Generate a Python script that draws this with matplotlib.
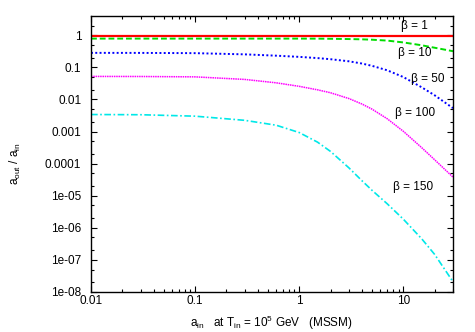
import numpy as np
import matplotlib
matplotlib.use("Agg")
import matplotlib.pyplot as plt
from matplotlib.ticker import LogLocator, NullFormatter, FixedLocator, FixedFormatter

plt.rcParams['font.family'] = ['Liberation Sans', 'DejaVu Sans']
plt.rcParams['mathtext.fontset'] = 'custom'
plt.rcParams['mathtext.rm'] = 'Liberation Sans'
plt.rcParams['mathtext.it'] = 'Liberation Sans:italic'

# values (log-log)
a_in = [0.01, 0.03, 0.1, 0.3, 0.6, 1, 1.5, 2, 3, 4, 5, 7, 10, 15, 20, 30]
beta_1 = [0.97, 0.97, 0.97, 0.97, 0.97, 0.97, 0.97, 0.97, 0.97, 0.97, 0.97, 0.97, 0.97, 0.97, 0.97, 0.97]
beta_10 = [0.79, 0.79, 0.79, 0.79, 0.79, 0.79, 0.787, 0.78, 0.765, 0.75, 0.73, 0.685, 0.60, 0.49, 0.41, 0.32]
beta_50 = [0.284, 0.283, 0.278, 0.255, 0.232, 0.213, 0.195, 0.180, 0.155, 0.132, 0.112, 0.0813, 0.0501,
           0.024, 0.0135, 0.00537]
beta_100 = [0.0524, 0.0521, 0.0507, 0.0422, 0.0331, 0.0257, 0.020, 0.0162, 0.0107, 0.00724, 0.00501,
            0.00251, 0.00102, 3.16e-4, 1.32e-4, 3.8e-5]
beta_150 = [3.40e-3, 3.35e-3, 3.02e-3, 2.24e-3, 1.58e-3, 9.33e-4, 4.68e-4, 2.40e-4, 7.41e-5, 2.95e-5,
            1.48e-5, 5.62e-6, 1.86e-6, 4.57e-7, 1.48e-7, 2.09e-8]

series = [beta_1, beta_10, beta_50, beta_100, beta_150]
labels = ['\u03b2 = 1', '\u03b2 = 10', '\u03b2 = 50', '\u03b2 = 100', '\u03b2 = 150']
label_pos = [(12.8, 1.9), (12.8, 0.29), (17, 0.045), (13.1, 0.0039), (12.5, 1.9e-5)]
colors = ['#ff0000', '#00dd00', '#0000ff', '#ff00ff', '#00e8e8']
styles = ['-', (0, (3, 1.5)), (0, (1, 1.2)), (0, (1, 0.5)), (0, (4, 1.5, 1, 1.5))]
widths = [1.6, 1.4, 1.4, 1.1, 1.2]

yticks = [1e-8, 1e-7, 1e-6, 1e-5, 1e-4, 1e-3, 1e-2, 0.1, 1]
ytick_labels = ['1e-08', '1e-07', '1e-06', '1e-05', '0.0001', '0.001', '0.01', '0.1', '1']
xticks = [0.01, 0.1, 1, 10]
xtick_labels = ['0.01', '0.1', '1', '10']

fig = plt.figure(figsize=(4.75, 3.32), dpi=100)
ax = fig.add_axes([91 / 475, 1 - 292 / 332, 362 / 475, 276 / 332])

for y, c, ls, lw in zip(series, colors, styles, widths):
    ax.plot(a_in, y, color=c, linestyle=ls, linewidth=lw)

for (tx, ty), t in zip(label_pos, labels):
    ax.text(tx, ty, t, ha='center', va='center', fontsize=8.5)

ax.set_xscale('log')
ax.set_yscale('log')
ax.set_xlim(0.01, 30)
ax.set_ylim(1e-8, 4)

ax.yaxis.set_major_locator(FixedLocator(yticks))
ax.yaxis.set_major_formatter(FixedFormatter(ytick_labels))
ax.yaxis.set_minor_locator(LogLocator(base=10, subs=[2, 5], numticks=20))
ax.yaxis.set_minor_formatter(NullFormatter())
ax.xaxis.set_major_locator(FixedLocator(xticks))
ax.xaxis.set_major_formatter(FixedFormatter(xtick_labels))
ax.xaxis.set_minor_locator(LogLocator(base=10, subs=np.arange(2, 10), numticks=20))
ax.xaxis.set_minor_formatter(NullFormatter())

ax.tick_params(which='both', direction='in', top=True, right=True, labelsize=8.5, width=0.8)
ax.tick_params(which='major', length=4)
ax.tick_params(which='minor', length=2)
ax.tick_params(axis='y', pad=7)
ax.tick_params(axis='x', pad=2)
for s in ax.spines.values():
    s.set_linewidth(1.0)

fig.text(15 / 475, 1 - 164 / 332, r'a$_{\rm out}$ / a$_{\rm in}$', rotation=90,
         ha='center', va='center', fontsize=8.5)
fig.text(271 / 475, 4.5 / 332, r'a$_{\rm in}$   at T$_{\rm in}$ = 10$^5$ GeV   (MSSM)',
         ha='center', va='baseline', fontsize=8.5)

fig.savefig('out.png', dpi=100)
